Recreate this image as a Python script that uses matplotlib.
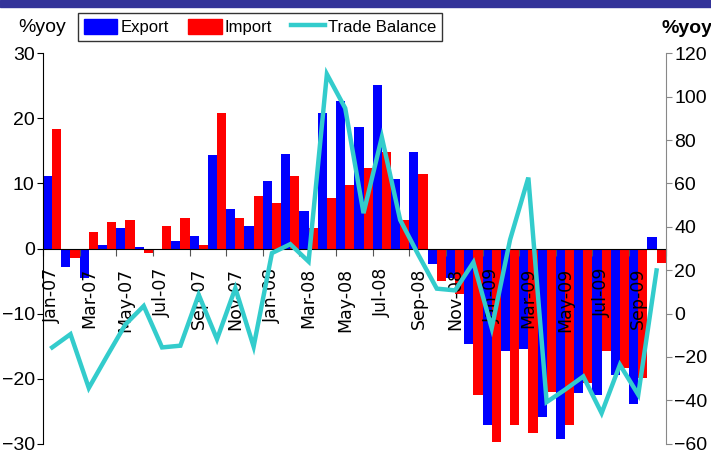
import numpy as np
import matplotlib.pyplot as plt
from matplotlib.patches import Rectangle, Patch
from matplotlib.lines import Line2D

plt.rcParams['font.family'] = ['Liberation Sans', 'DejaVu Sans']

months = ["Jan-07", "Feb-07", "Mar-07", "Apr-07", "May-07", "Jun-07", "Jul-07", "Aug-07",
          "Sep-07", "Oct-07", "Nov-07", "Dec-07", "Jan-08", "Feb-08", "Mar-08", "Apr-08",
          "May-08", "Jun-08", "Jul-08", "Aug-08", "Sep-08", "Oct-08", "Nov-08", "Dec-08",
          "Jan-09", "Feb-09", "Mar-09", "Apr-09", "May-09", "Jun-09", "Jul-09", "Aug-09",
          "Sep-09", "Oct-09"]
export = [11.1, -2.8, -4.6, 0.5, 3.1, 0.25, 0.0, 1.1, 1.9, 14.3, 6.1, 3.4,
          10.4, 14.6, 5.7, 20.8, 22.7, 18.6, 25.2, 10.7, 14.8, -2.4, -4.5, -14.6,
          -27.2, -15.8, -15.5, -25.9, -29.2, -22.2, -22.5, -19.5, -23.9, 1.7]
imports = [18.3, -1.4, 2.5, 4.15, 4.45, -0.65, 3.4, 4.75, 0.5, 20.8, 4.75, 8.1,
           7.0, 11.1, 3.1, 7.8, 9.7, 12.4, 14.8, 4.45, 11.4, -5.0, -7.0, -22.5,
           -29.7, -27.2, -28.4, -22.0, -27.2, -20.6, -15.8, -18.3, -19.9, -2.3]
balance = [-15.6, -9.5, -34.3, -19.5, -5.0, 3.5, -15.6, -14.8, 8.7, -11.8, 11.7, -15.2,
           27.9, 32.0, 24.0, 110.4, 94.7, 46.3, 81.3, 43.2, 27.0, 11.5, 10.7, 23.6,
           -6.7, 34.0, 62.7, -40.8, -35.1, -29.0, -45.9, -23.6, -37.4, 19.9]

fig = plt.figure(figsize=(7.11, 4.53), dpi=100)
fig.patches.append(Rectangle((0, 1 - 7 / 453), 1, 7 / 453, transform=fig.transFigure,
                             color='#333399', zorder=0))

ax = fig.add_axes([0.0605, 0.0205, 0.8758, 0.8618])
x = np.arange(len(months))
ax.bar(x + 0.25, export, width=0.5, color='#0000FF', zorder=1)
ax.bar(x + 0.75, imports, width=0.5, color='#FF0000', zorder=1)
ax.set_xlim(0, len(months))
ax.set_ylim(-30, 30)
ax.set_yticks(np.arange(-30, 31, 10))
ax.spines['top'].set_visible(False)
ax.spines['right'].set_visible(False)
ax.spines['bottom'].set_position(('data', 0))
ax.spines['bottom'].set_color('black')
ax.spines['left'].set_color('black')
ax.tick_params(axis='y', direction='out', length=4, labelsize=14, pad=2)

ax.set_xticks(np.arange(0, len(months) + 1, 2))
ax.set_xticklabels([])
ax.set_xticks(x[::2] + 0.5, minor=True)
ax.set_xticklabels(months[::2], minor=True, rotation=90, fontsize=12.5,
                   family='DejaVu Sans', va='top', ha='center')
ax.tick_params(axis='x', which='major', direction='out', length=5, color='#555555')
ax.tick_params(axis='x', which='minor', length=0, pad=14)

ax2 = ax.twinx()
ax2.plot(x + 0.5, balance, color='#33CCCC', linewidth=3.2, solid_joinstyle='miter')
ax2.set_ylim(-60, 120)
ax2.set_yticks(np.arange(-60, 121, 20))
for s in ['top', 'left', 'bottom']:
    ax2.spines[s].set_visible(False)
ax2.spines['right'].set_color('#888888')
ax2.tick_params(axis='y', direction='out', length=4, color='#888888', labelsize=14, pad=2)

fig.text(0.059, 0.94, '%yoy', ha='center', va='center', fontsize=14)
fig.text(0.966, 0.938, '%yoy', ha='center', va='center', fontsize=14, fontweight='bold')

handles = [Patch(color='#0000FF', label='Export'),
           Patch(color='#FF0000', label='Import'),
           Line2D([], [], color='#33CCCC', linewidth=3.2, label='Trade Balance')]
leg = fig.legend(handles=handles, loc='center', ncol=3,
                 bbox_to_anchor=(0.366, 0.9404), fontsize=12,
                 frameon=True, fancybox=False, borderaxespad=0, handlelength=2.0,
                 handleheight=1.0, handletextpad=0.2, borderpad=0.35, columnspacing=1.15)
leg.get_frame().set_edgecolor('black')
leg.get_frame().set_linewidth(1.0)

fig.savefig('out.png', dpi=100)
